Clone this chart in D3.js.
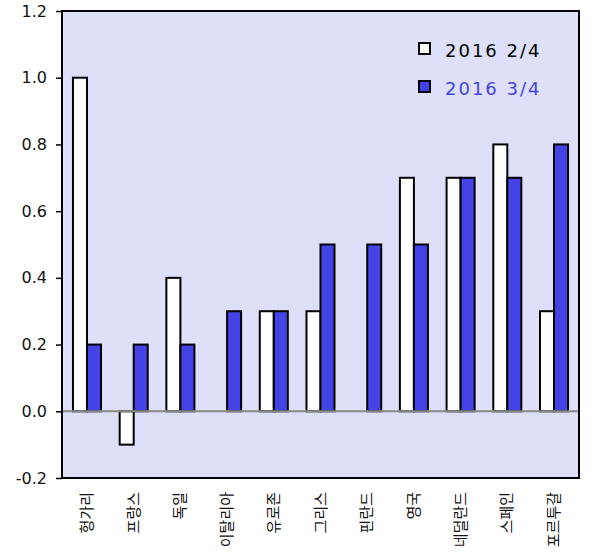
<!DOCTYPE html>
<html lang="ko">
<head>
<meta charset="utf-8">
<title>chart</title>
<script src="https://cdn.jsdelivr.net/npm/d3@7"></script>
<style>
  body { margin: 0; background: #fff; }
</style>
</head>
<body>
<div id="chart"></div>
<script>
// data
var countries = ["헝가리", "프랑스", "독일", "이탈리아", "유로존", "그리스", "핀란드", "영국", "네덜란드", "스페인", "포르투갈"];
var q2 = [1.0, -0.1, 0.4, 0, 0.3, 0.3, 0, 0.7, 0.7, 0.8, 0.3];
var q3 = [0.2, 0.2, 0.2, 0.3, 0.3, 0.5, 0.5, 0.5, 0.7, 0.7, 0.8];
var seriesNames = ["2016 2/4", "2016 3/4"];
var yTicks = [-0.2, 0, 0.2, 0.4, 0.6, 0.8, 1.0, 1.2];

var W = 600, H = 558;
var pLeft = 62, pRight = 579, pTop = 11, pBottom = 478;
var blue = "#4444e6";

var svg = d3.select("#chart").append("svg").attr("width", W).attr("height", H);

var x = d3.scaleBand().domain(countries).range([pLeft, pRight]).paddingInner(0.4).paddingOuter(0.235);
var xs = d3.scaleBand().domain([0, 1]).range([0, x.bandwidth()]);
var y = d3.scaleLinear().domain([-0.2, 1.2]).range([pBottom, pTop]);

// plot background
svg.append("rect")
  .attr("x", pLeft).attr("y", pTop)
  .attr("width", pRight - pLeft).attr("height", pBottom - pTop)
  .attr("fill", "#dde0f8");

// bars
var rows = countries.map(function(c, i) { return [c, q2[i], q3[i]]; });
var g = svg.selectAll("g.grp").data(rows).enter().append("g")
  .attr("transform", function(d) { return "translate(" + x(d[0]) + ",0)"; });

[1, 2].forEach(function(k) {
  g.filter(function(d) { return d[k] != 0; })
    .append("rect")
    .attr("x", xs(k - 1))
    .attr("width", xs.bandwidth())
    .attr("y", function(d) { return y(Math.max(0, d[k])); })
    .attr("height", function(d) { return Math.abs(y(d[k]) - y(0)); })
    .attr("fill", k == 1 ? "#fff" : blue)
    .attr("stroke", "#000")
    .attr("stroke-width", 2);
});

// zero line
svg.append("line")
  .attr("x1", pLeft).attr("x2", pRight)
  .attr("y1", y(0)).attr("y2", y(0))
  .attr("stroke", "#888").attr("stroke-width", 2);

// frame
svg.append("rect")
  .attr("x", pLeft).attr("y", pTop)
  .attr("width", pRight - pLeft).attr("height", pBottom - pTop)
  .attr("fill", "none").attr("stroke", "#000").attr("stroke-width", 2);

// y axis
var yAxis = svg.append("g")
  .attr("transform", "translate(" + pLeft + ",0)")
  .call(d3.axisLeft(y).tickValues(yTicks)
    .tickFormat(function(d) { return d.toFixed(1); })
    .tickSize(6).tickPadding(9));
yAxis.select(".domain").remove();
yAxis.selectAll("line").attr("stroke", "#000").attr("stroke-width", 1.5);
yAxis.selectAll("text")
  .attr("font-family", "DejaVu Sans, sans-serif")
  .attr("font-size", 16)
  .attr("fill", "#111");

// x labels
var xAxis = svg.append("g")
  .attr("transform", "translate(0," + pBottom + ")")
  .call(d3.axisBottom(x).tickSize(0).tickPadding(0));
xAxis.select(".domain").remove();
xAxis.selectAll("text")
  .attr("font-family", "Noto Sans CJK KR, sans-serif")
  .attr("font-size", 15)
  .attr("fill", "#111")
  .attr("text-anchor", "end")
  .attr("dy", null)
  .attr("transform", "translate(5,14) rotate(-90)");

// legend
var leg = svg.append("g").attr("transform", "translate(419,43)");
seriesNames.forEach(function(name, i) {
  leg.append("rect")
    .attr("x", 0).attr("y", i * 38)
    .attr("width", 11).attr("height", 11)
    .attr("fill", i == 0 ? "#fff" : blue)
    .attr("stroke", "#000").attr("stroke-width", 2);
  leg.append("text")
    .attr("x", 26).attr("y", i * 38 + 14)
    .attr("font-family", "DejaVu Sans, sans-serif")
    .attr("font-size", 18)
    .attr("letter-spacing", 2)
    .attr("fill", i == 0 ? "#000" : blue)
    .text(name);
});
</script>
</body>
</html>
